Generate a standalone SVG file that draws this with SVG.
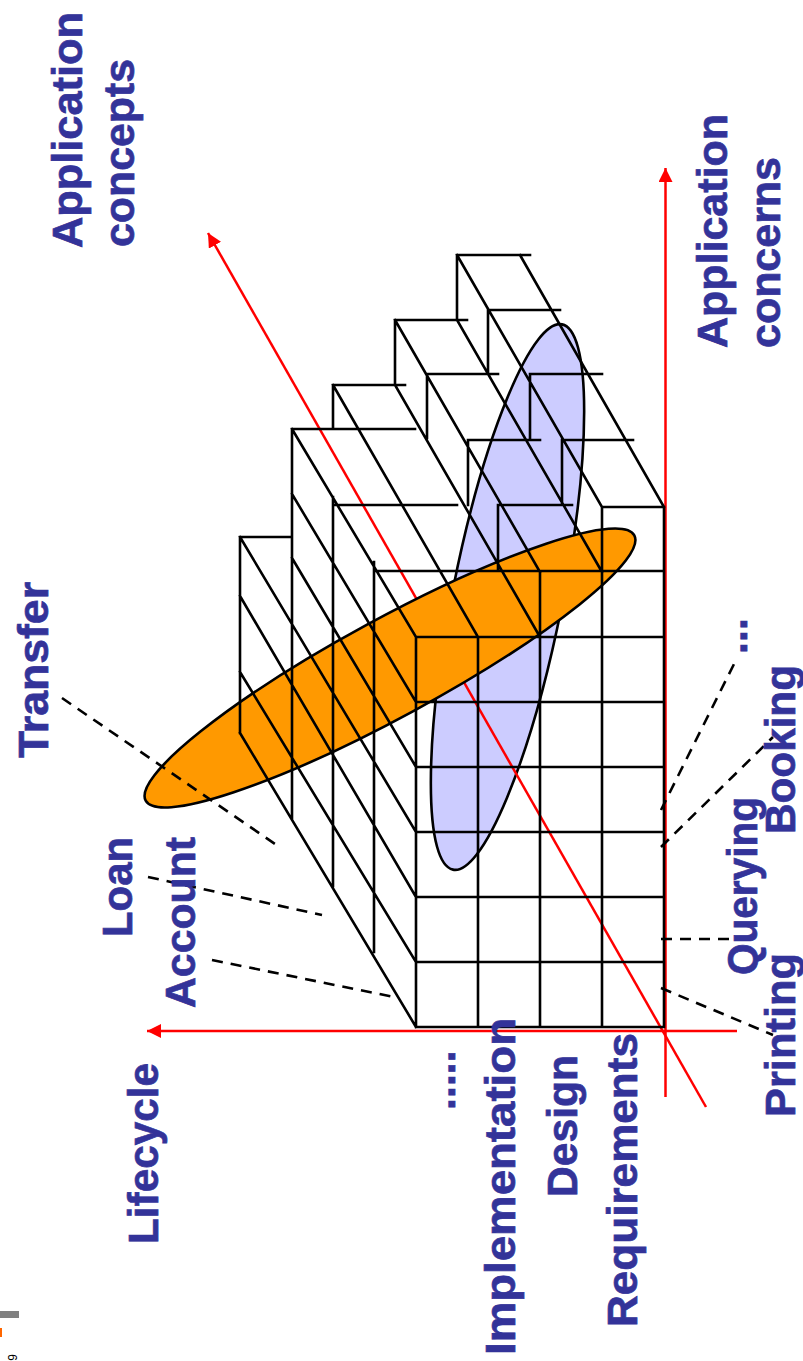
<svg xmlns="http://www.w3.org/2000/svg" width="803" height="1361" viewBox="0 0 803 1361">
<defs>
<style>
.g{stroke:#000;stroke-width:2.6;fill:none;stroke-linecap:square}
.ax{stroke:#ff0000;stroke-width:2.5;fill:none}
.d{stroke:#000;stroke-width:2.6;fill:none;stroke-dasharray:11 8}
.t{font-family:"Liberation Sans",Arial,sans-serif;font-weight:bold;font-size:43px;fill:#333399;stroke:#333399;stroke-width:0.7}
.el{stroke:#000;stroke-width:2.6}
</style>
<marker id="ah" markerUnits="userSpaceOnUse" markerWidth="16" markerHeight="16" refX="14" refY="7" orient="auto"><path d="M0,0 L14,7 L0,14 z" fill="#ff0000"/></marker>
</defs>
<rect width="803" height="1361" fill="#fff"/>

<g id="footer">
<rect x="0" y="1311" width="19" height="7" fill="#808080"/>
<rect x="0" y="1328" width="2" height="9" fill="#ff6600"/>
<text transform="translate(17,1354) rotate(-90)" text-anchor="end" font-family="Liberation Sans, Arial, sans-serif" font-size="12" fill="#000">19</text>
</g>

<g id="concern-highlight">
<ellipse class="el" cx="507.5" cy="597" rx="278" ry="55" transform="rotate(-78.7 507.5 597)" fill="#ccccff"/>
</g>

<g id="axes">
<line class="ax" x1="706" y1="1107" x2="208" y2="233" marker-end="url(#ah)"/>
<line class="ax" x1="737" y1="1031" x2="147" y2="1031" marker-end="url(#ah)"/>
<line class="ax" x1="665.5" y1="1097" x2="665.5" y2="168" marker-end="url(#ah)"/>
</g>

<g id="concept-highlight">
<ellipse class="el" cx="390" cy="668" rx="278" ry="49" transform="rotate(-28.5 390 668)" fill="#ff9900"/>
</g>

<g id="grid">
<path class="g" d="
M416,637 V1027 M478,637 V1027 M540,572 V1027 M602,507 V1027 M664,507 V1027
M416,1027 H664 M416,962 H664 M416,897 H664 M416,832 H664 M416,767 H664 M416,702 H664 M416,637 H664
M375,571 H664 M602,507 H664
M602,507 L457,255 M664,507 L520,255
M457,255 H530 M488,310 H560 M530,374 H602 M562,440 H633
M457,255 V320 M488,310 V374 M530,374 V440 M562,440 V505
M457,320 L602,572
M540,572 L395,320
M395,320 H467 M427,374 H498 M468,440 H540 M498,505 H572
M395,320 V385 M427,374 V438 M468,440 V505 M498,505 V570
M395,385 L540,637
M478,637 L333,385
M333,385 H405 M333,385 V429
M333,505 H457 M292,429 H415
M416,637 L292,429 M416,702 L292,494 M416,767 L292,558
M416,832 L240,537 M416,897 L240,596 M416,962 L240,672 M416,1027 L240,733
M374,562 V952 M333,497 V886 M292,429 V818 M240,537 V733
M240,537 H290"/>
</g>

<g id="connectors">
<line class="d" x1="62" y1="698" x2="278" y2="846"/>
<line class="d" x1="148" y1="877" x2="322" y2="915"/>
<line class="d" x1="212" y1="960" x2="394" y2="997"/>
<line class="d" x1="661" y1="988" x2="773" y2="1035"/>
<line class="d" x1="661" y1="939" x2="735" y2="939"/>
<line class="d" x1="661" y1="847" x2="773" y2="737"/>
<line class="d" x1="661" y1="810" x2="735" y2="662"/>
</g>

<g id="label-application-concepts">
<text class="t" transform="translate(81.5,248) rotate(-90)" textLength="236" lengthAdjust="spacingAndGlyphs">Application</text>
<text class="t" transform="translate(133.5,247) rotate(-90)" textLength="188" lengthAdjust="spacingAndGlyphs">concepts</text>
</g>
<g id="label-application-concerns">
<text class="t" transform="translate(727,348) rotate(-90)" textLength="234" lengthAdjust="spacingAndGlyphs">Application</text>
<text class="t" transform="translate(780,348) rotate(-90)" textLength="191" lengthAdjust="spacingAndGlyphs">concerns</text>
</g>
<g id="label-transfer">
<text class="t" transform="translate(48,758) rotate(-90)" textLength="176" lengthAdjust="spacingAndGlyphs">Transfer</text>
</g>
<g id="label-loan">
<text class="t" transform="translate(132,937) rotate(-90)" textLength="100" lengthAdjust="spacingAndGlyphs">Loan</text>
</g>
<g id="label-account">
<text class="t" transform="translate(195,1008) rotate(-90)" textLength="171" lengthAdjust="spacingAndGlyphs">Account</text>
</g>
<g id="label-lifecycle">
<text class="t" transform="translate(158,1244) rotate(-90)" textLength="181" lengthAdjust="spacingAndGlyphs">Lifecycle</text>
</g>
<g id="label-more-phases">
<text class="t" transform="translate(455,1110) rotate(-90)">.....</text>
</g>
<g id="label-implementation">
<text class="t" transform="translate(515,1355) rotate(-90)" textLength="337" lengthAdjust="spacingAndGlyphs">Implementation</text>
</g>
<g id="label-design">
<text class="t" transform="translate(577,1197) rotate(-90)" textLength="142" lengthAdjust="spacingAndGlyphs">Design</text>
</g>
<g id="label-requirements">
<text class="t" transform="translate(637,1327) rotate(-90)" textLength="294" lengthAdjust="spacingAndGlyphs">Requirements</text>
</g>
<g id="label-printing">
<text class="t" transform="translate(795,1117) rotate(-90)" textLength="164" lengthAdjust="spacingAndGlyphs">Printing</text>
</g>
<g id="label-querying">
<text class="t" transform="translate(757,975) rotate(-90)" textLength="178" lengthAdjust="spacingAndGlyphs">Querying</text>
</g>
<g id="label-booking">
<text class="t" transform="translate(795,834) rotate(-90)" textLength="169" lengthAdjust="spacingAndGlyphs">Booking</text>
</g>
<g id="label-more-concerns">
<text class="t" transform="translate(747,654) rotate(-90)">...</text>
</g>
</svg>
